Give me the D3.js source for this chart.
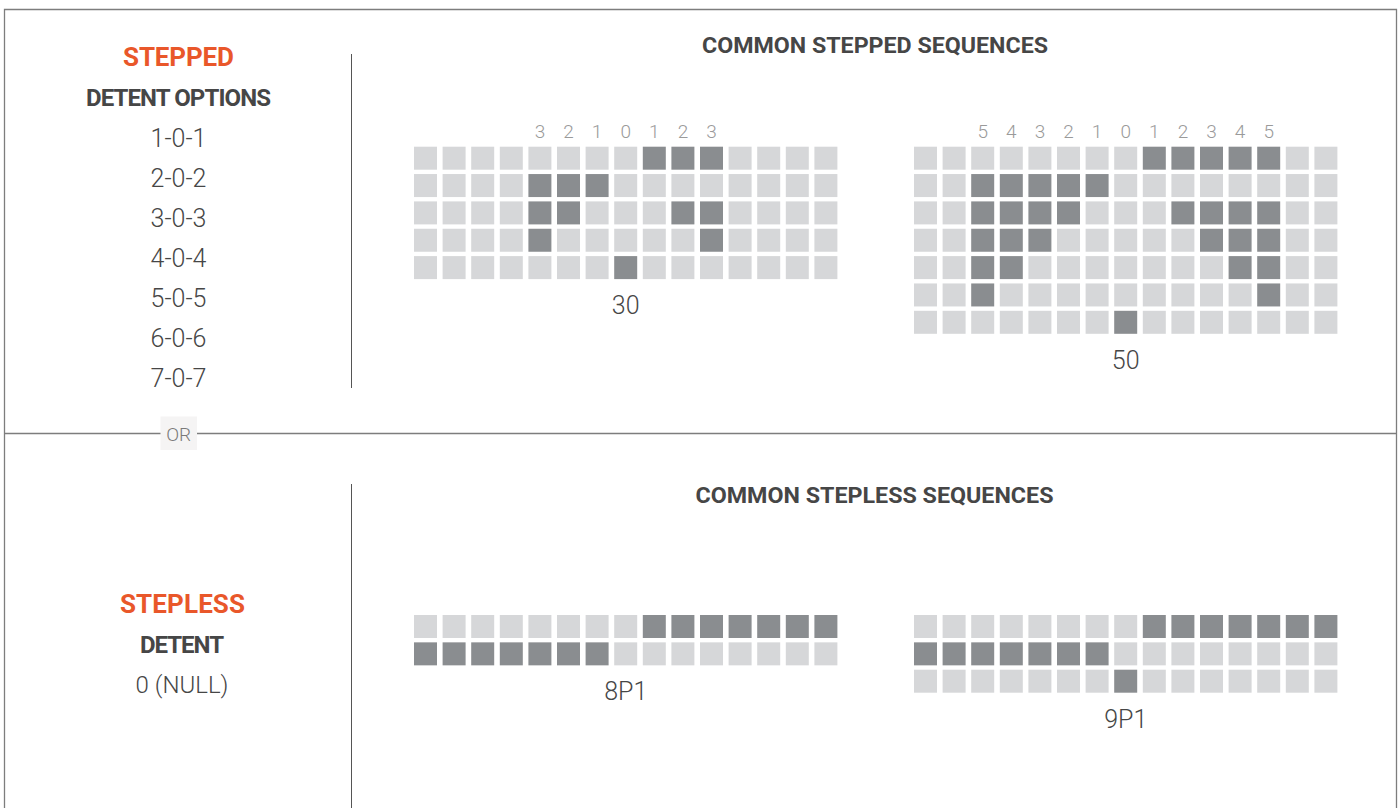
<!DOCTYPE html>
<html>
<head>
<meta charset="utf-8">
<script src="https://cdn.jsdelivr.net/npm/d3@7"></script>
<style>
  body { margin: 0; background: #fff; }
  svg { display: block; font-family: Roboto, "Noto Sans", sans-serif; }
</style>
</head>
<body>
<svg id="chart"></svg>
<script>
// data
var detentOptions = ["1-0-1", "2-0-2", "3-0-3", "4-0-4", "5-0-5", "6-0-6", "7-0-7"];
var steplessDetent = ["0 (NULL)"];

// active switch positions per row (column index, 15 columns each)
var seq30 = [[8, 9, 10], [4, 5, 6], [4, 5, 9, 10], [4, 10], [7]];
var seq50 = [[8, 9, 10, 11, 12], [2, 3, 4, 5, 6], [2, 3, 4, 5, 9, 10, 11, 12],
             [2, 3, 4, 10, 11, 12], [2, 3, 11, 12], [2, 12], [7]];
var seq8P1 = [[8, 9, 10, 11, 12, 13, 14], [0, 1, 2, 3, 4, 5, 6]];
var seq9P1 = [[8, 9, 10, 11, 12, 13, 14], [0, 1, 2, 3, 4, 5, 6], [7]];

var ticks30 = ["3", "2", "1", "0", "1", "2", "3"];
var ticks50 = ["5", "4", "3", "2", "1", "0", "1", "2", "3", "4", "5"];
var nCols = 15;
var zeroCol = 7;

var width = 1400, height = 808;
var colStep = 28.6, rowStep = 27.35, cell = 23;
var light = "#d6d7d9", dark = "#8a8d90";
var orange = "#e9572a", textDark = "#464646";

var svg = d3.select("#chart")
  .attr("width", width)
  .attr("height", height);

// frame
svg.append("path")
  .attr("d", "M4.5,808 L4.5,9.5 L1396.5,9.5 L1396.5,808")
  .attr("fill", "none")
  .attr("stroke", "#7d7d7d")
  .attr("stroke-width", 1.3);

svg.append("line")
  .attr("x1", 4.5).attr("x2", 1396.5)
  .attr("y1", 433.5).attr("y2", 433.5)
  .attr("stroke", "#7d7d7d").attr("stroke-width", 1.3);

svg.append("line")
  .attr("x1", 351.5).attr("x2", 351.5)
  .attr("y1", 54).attr("y2", 388)
  .attr("stroke", "#555").attr("stroke-width", 1);
svg.append("line")
  .attr("x1", 351.5).attr("x2", 351.5)
  .attr("y1", 484).attr("y2", 808)
  .attr("stroke", "#555").attr("stroke-width", 1);

// OR badge
svg.append("rect")
  .attr("x", 160.5).attr("y", 416.5)
  .attr("width", 36.5).attr("height", 33.5)
  .attr("fill", "#f5f4f4");
svg.append("text")
  .attr("x", 178.7).attr("y", 441)
  .attr("text-anchor", "middle")
  .attr("font-size", 19).attr("font-weight", 300)
  .attr("fill", "#7a7a7a")
  .text("OR");

// left column texts
function leftText(x, y, txt, size, weight, color) {
  return svg.append("text")
    .attr("x", x).attr("y", y)
    .attr("text-anchor", "middle")
    .attr("font-size", size)
    .attr("font-weight", weight)
    .attr("fill", color)
    .text(txt);
}

leftText(178.5, 66, "STEPPED", 26, 700, orange).attr("textLength", 111);
leftText(178.5, 106, "DETENT OPTIONS", 24, 700, textDark).attr("textLength", 185);

var optY = d3.scalePoint()
  .domain(detentOptions)
  .range([147, 387]);

svg.selectAll("text.opt")
  .data(detentOptions)
  .enter()
  .append("text")
  .attr("class", "opt")
  .attr("x", 178.5)
  .attr("y", function(d) { return optY(d); })
  .attr("text-anchor", "middle")
  .attr("font-size", 25)
  .attr("font-weight", 300)
  .attr("fill", textDark)
  .text(function(d) { return d; });

leftText(182.5, 613, "STEPLESS", 26, 700, orange).attr("textLength", 125);
leftText(182, 653, "DETENT", 24, 700, textDark).attr("textLength", 84);
leftText(182, 693, steplessDetent[0], 24, 300, textDark);

// section headers
leftText(875, 53, "COMMON STEPPED SEQUENCES", 22, 700, textDark)
  .attr("textLength", 346).attr("lengthAdjust", "spacingAndGlyphs");
leftText(874.5, 502.5, "COMMON STEPLESS SEQUENCES", 22, 700, textDark)
  .attr("textLength", 358).attr("lengthAdjust", "spacingAndGlyphs");

// grids
function drawGrid(x0, y0, rows, name, ticks) {
  var nRows = rows.length;
  var x = d3.scaleBand()
    .domain(d3.range(nCols))
    .range([x0, x0 + (nCols - 1) * colStep + cell])
    .paddingInner(1 - cell / colStep);
  var y = d3.scaleBand()
    .domain(d3.range(nRows))
    .range([y0, y0 + (nRows - 1) * rowStep + cell])
    .paddingInner(1 - cell / rowStep);

  var cells = [];
  rows.forEach(function(active, r) {
    d3.range(nCols).forEach(function(c) {
      cells.push({ r: r, c: c, on: active.indexOf(c) >= 0 });
    });
  });

  var g = svg.append("g").attr("class", "grid");
  g.selectAll("rect")
    .data(cells)
    .enter()
    .append("rect")
    .attr("x", function(d) { return x(d.c); })
    .attr("y", function(d) { return y(d.r); })
    .attr("width", x.bandwidth())
    .attr("height", y.bandwidth())
    .attr("fill", function(d) { return d.on ? dark : light; });

  if (ticks) {
    var start = zeroCol - (ticks.length - 1) / 2;
    g.selectAll("text.tick")
      .data(ticks)
      .enter()
      .append("text")
      .attr("class", "tick")
      .attr("x", function(d, i) { return x(start + i) + x.bandwidth() / 2; })
      .attr("y", y0 - 8.5)
      .attr("text-anchor", "middle")
      .attr("font-size", 19)
      .attr("font-weight", 300)
      .attr("fill", "#9a9a9a")
      .text(function(d) { return d; });
  }

  g.append("text")
    .attr("x", x(zeroCol) + x.bandwidth() / 2)
    .attr("y", y0 + (nRows - 1) * rowStep + cell + 35)
    .attr("text-anchor", "middle")
    .attr("font-size", 25)
    .attr("font-weight", 300)
    .attr("fill", textDark)
    .text(name);
}

drawGrid(414, 146.7, seq30, "30", ticks30);
drawGrid(914, 146.7, seq50, "50", ticks50);
drawGrid(414, 615, seq8P1, "8P1", null);
drawGrid(914, 615, seq9P1, "9P1", null);
</script>
</body>
</html>
